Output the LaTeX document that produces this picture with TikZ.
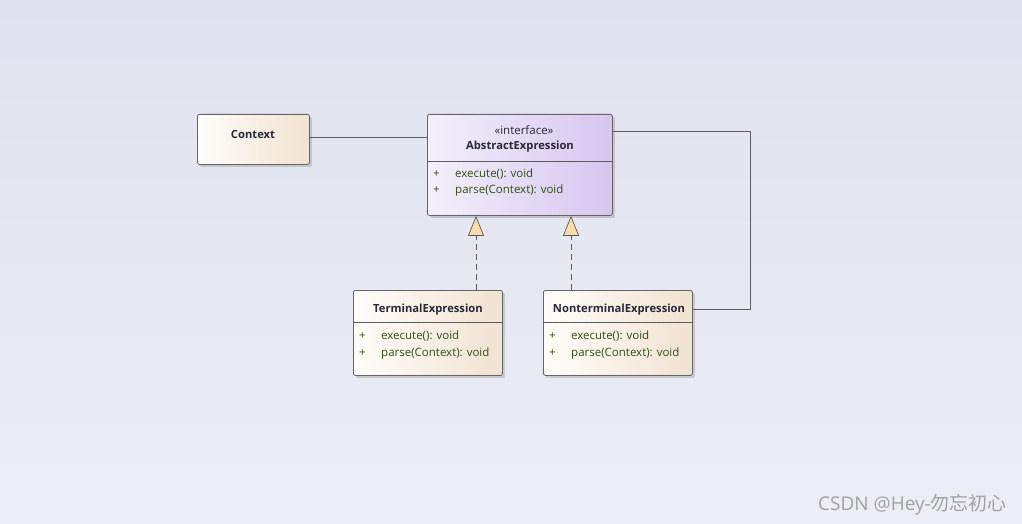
\documentclass[tikz,border=0pt]{standalone}
\usepackage{fontspec}
\setmainfont{Open Sans}
\newfontfamily\cjk{Noto Sans CJK SC}
\usetikzlibrary{shadows,arrows.meta}
\definecolor{bgtop}{RGB}{223,225,238}
\definecolor{bgbot}{RGB}{236,238,245}
\definecolor{warmL}{RGB}{255,253,250}
\definecolor{warmR}{RGB}{241,226,209}
\definecolor{violL}{RGB}{243,240,251}
\definecolor{violR}{RGB}{214,198,238}
\definecolor{linec}{RGB}{90,90,95}
\definecolor{boxline}{RGB}{100,100,105}
\definecolor{namec}{RGB}{40,40,55}
\definecolor{memc}{RGB}{45,80,15}
\definecolor{trifill}{RGB}{248,220,170}
\definecolor{wm}{RGB}{160,160,165}
\tikzset{
  classbox/.style={draw=boxline, line width=0.8pt, rounded corners=2pt, anchor=north west,
    drop shadow={shadow xshift=2.5pt, shadow yshift=-2.5pt, opacity=0.25, fill=black!60}},
  warmbox/.style={classbox, shading angle=45, left color=warmL, right color=warmR},
  violbox/.style={classbox, left color=violL, right color=violR},
  cname/.style={font=\fontsize{11.2}{13}\selectfont\bfseries, text=namec, inner sep=0pt, yshift=-1.5pt},
  stereo/.style={font=\fontsize{11.5}{13}\selectfont, text=namec, inner sep=0pt, yshift=-1.5pt},
  member/.style={font=\fontsize{11.5}{13}\selectfont, text=memc, inner sep=0pt, anchor=west, yshift=-1.5pt},
  conn/.style={draw=linec, line width=0.7pt},
  realize/.style={conn, dash pattern=on 6pt off 4pt,
    -{Triangle[width=16pt,length=20pt,fill=trifill,sep=0pt]}},
}
\begin{document}
\begin{tikzpicture}[x=1pt,y=-1pt]
\useasboundingbox (0,0) rectangle (1022,524);
\shade[top color=bgtop, bottom color=bgbot] (0,0) rectangle (1022,524);

% boxes
\node[warmbox, left color=warmL, right color=warmR, shading angle=90, minimum width=112pt, minimum height=50pt] (ctx) at (197,114) {};
\node[violbox, minimum width=185pt, minimum height=101pt] (abs) at (427,114) {};
\node[warmbox, minimum width=149pt, minimum height=85pt] (term) at (353,290) {};
\node[warmbox, minimum width=149pt, minimum height=85pt] (non) at (543,290) {};

% compartments
\draw[conn] ([yshift=-47pt]abs.north west) -- ([yshift=-47pt]abs.north east);
\draw[conn] ([yshift=-32pt]term.north west) -- ([yshift=-32pt]term.north east);
\draw[conn] ([yshift=-32pt]non.north west) -- ([yshift=-32pt]non.north east);

% texts
\node[cname] (ctxname) at (253,133) {Context};
\node[stereo] (absst) at (524,129) {«interface»};
\node[cname] (absname) at (520,145) {AbstractExpression};
\node[member] (absp1) at (433,173) {+};
\node[member] (absm1) at (455,173) {execute(): void};
\node[member] (absp2) at (433,189) {+};
\node[member] (absm2) at (455,189) {parse(Context): void};

\node[cname] (termname) at (428,308) {TerminalExpression};
\node[member] (termp1) at (359,335) {+};
\node[member] (termm1) at (381,335) {execute(): void};
\node[member] (termp2) at (359,352) {+};
\node[member] (termm2) at (381,352) {parse(Context): void};

\node[cname] (nonname) at (619,308) {NonterminalExpression};
\node[member] (nonp1) at (549,335) {+};
\node[member] (nonm1) at (571,335) {execute(): void};
\node[member] (nonp2) at (549,352) {+};
\node[member] (nonm2) at (571,352) {parse(Context): void};

% connectors
\draw[conn] ([yshift=-23pt]ctx.north east) -- ([yshift=-23pt]abs.north west);
\draw[realize] ([xshift=123pt]term.north west) -- ([xshift=49pt]abs.south west);
\draw[realize] ([xshift=28pt]non.north west) -- ([xshift=144pt]abs.south west);
\draw[conn] ([yshift=-17pt]abs.north east) -- ++(138pt,0) |- ([yshift=-19pt]non.north east);

% watermark
\node[font=\fontsize{19}{21}\selectfont, text=wm, anchor=east, inner sep=0pt] (wmark) at (1007,505) {CSDN @Hey-{\cjk 勿忘初心}};
\end{tikzpicture}
\end{document}
